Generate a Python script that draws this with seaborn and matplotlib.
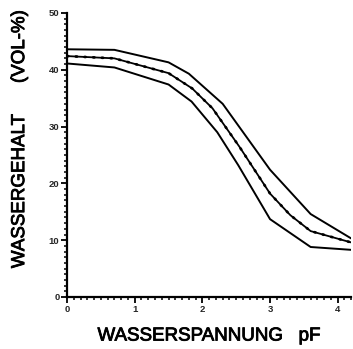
import matplotlib
matplotlib.use("Agg")
import matplotlib.pyplot as plt
import matplotlib.patheffects as pe
from matplotlib.ticker import MultipleLocator
import seaborn as sns
import pandas as pd

sns.set_theme(style="ticks")
plt.rcParams["font.family"] = ["Liberation Sans", "DejaVu Sans"]

# Water content (vol-%) against water tension (pF): upper and lower bounds and mean curve
pf_upper = [0.0, 0.7, 1.5, 1.8, 2.3, 3.0, 3.6, 4.2]
wc_upper = [43.6, 43.5, 41.3, 39.3, 34.0, 22.4, 14.6, 10.3]

pf_mean = [0.0, 0.7, 1.5, 1.85, 2.15, 2.55, 3.0, 3.3, 3.6, 4.2]
wc_mean = [42.4, 42.0, 39.4, 36.7, 33.2, 26.4, 18.2, 14.4, 11.6, 9.6]

pf_lower = [0.0, 0.7, 1.5, 1.84, 2.22, 2.53, 3.0, 3.6, 4.2]
wc_lower = [41.1, 40.4, 37.4, 34.4, 29.0, 23.2, 13.7, 8.8, 8.3]

df_upper = pd.DataFrame({"pF": pf_upper, "wc": wc_upper})
df_mean = pd.DataFrame({"pF": pf_mean, "wc": wc_mean})
df_lower = pd.DataFrame({"pF": pf_lower, "wc": wc_lower})

fig = plt.figure(figsize=(3.53, 3.49), dpi=100)
ax = fig.add_axes([0.19, 0.149, 0.805, 0.814])

sns.lineplot(data=df_upper, x="pF", y="wc", ax=ax, color="black", lw=1.4, sort=False)
sns.lineplot(data=df_lower, x="pF", y="wc", ax=ax, color="black", lw=1.4, sort=False)
sns.lineplot(data=df_mean, x="pF", y="wc", ax=ax, color="black", lw=1.3, sort=False)
# beaded overlay on the mean curve
ax.plot(df_mean["pF"], df_mean["wc"], color="black", lw=1.9,
        linestyle=(0, (0.5, 2.8)), dash_capstyle="round")

ax.set_xlim(0, 4.2)
ax.set_ylim(0, 50)
ax.xaxis.set_major_locator(MultipleLocator(1))
ax.xaxis.set_minor_locator(MultipleLocator(0.1))
ax.yaxis.set_major_locator(MultipleLocator(10))
ax.yaxis.set_minor_locator(MultipleLocator(1))

sns.despine(ax=ax)
for s in ("left", "bottom"):
    ax.spines[s].set_linewidth(1.6)
    ax.spines[s].set_color("black")

ax.tick_params(which="major", direction="out", length=4, width=1.3, color="black",
               labelsize=6.8, pad=1.5)
ax.tick_params(which="minor", direction="out", length=2.2, width=1.1, color="black")
for lab in ax.get_xticklabels() + ax.get_yticklabels():
    lab.set_fontweight("bold")

heavy = [pe.withStroke(linewidth=0.6, foreground="black")]
ax.set_xlabel("WASSERSPANNUNG   pF", fontsize=13.5, labelpad=10, color="black",
              path_effects=heavy)
ax.set_ylabel("WASSERGEHALT      (VOL-%)", fontsize=13.5, color="black",
              path_effects=heavy)
ax.yaxis.set_label_coords(-0.137, 0.556)

fig.savefig("out.png", dpi=100, facecolor="white")
